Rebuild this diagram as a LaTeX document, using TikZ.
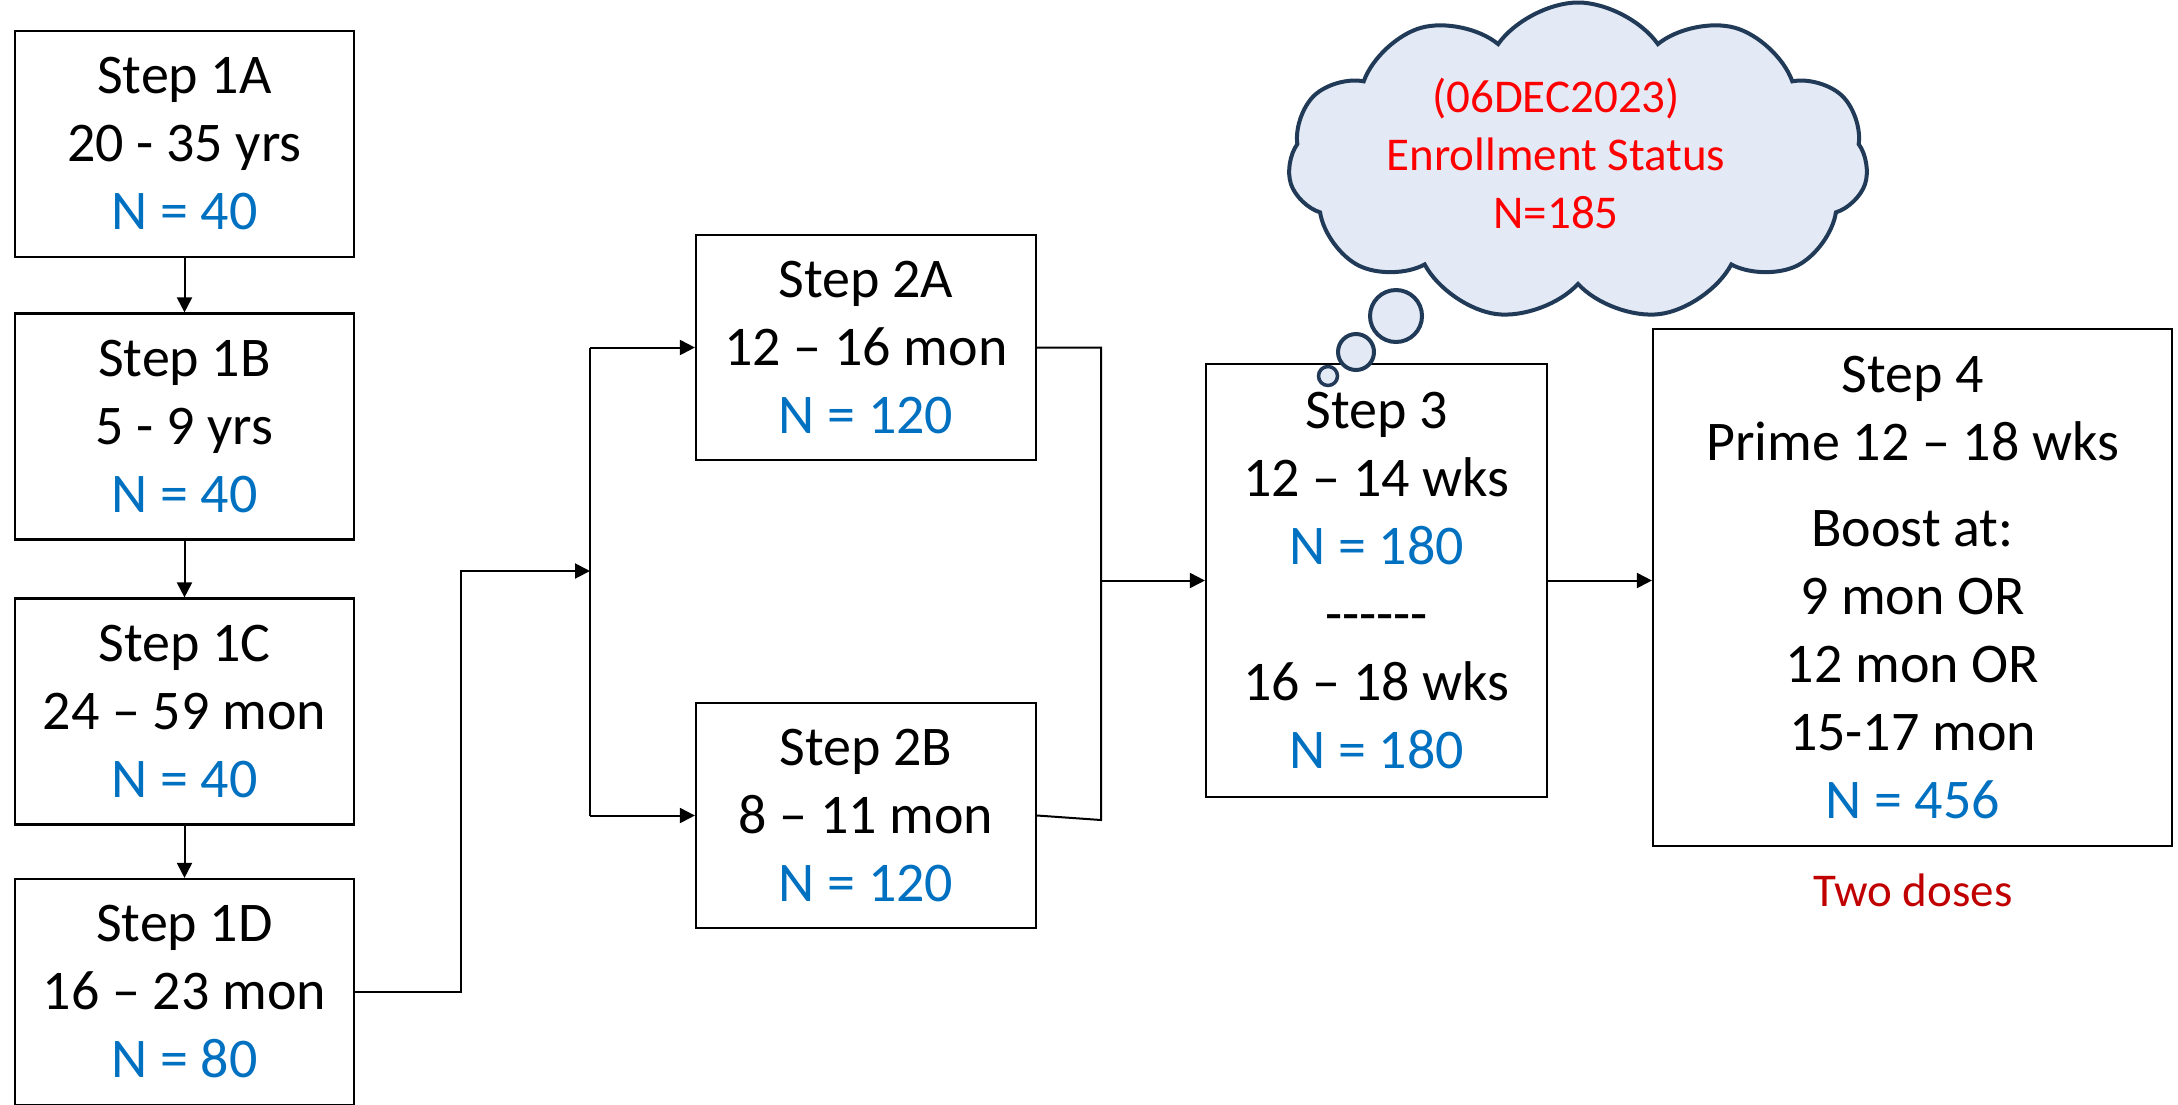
\documentclass[tikz,border=0pt]{standalone}
\usepackage{fontspec}
\setmainfont{Carlito}
\usetikzlibrary{shapes.symbols,arrows.meta}
\definecolor{nblue}{HTML}{0070C0}
\definecolor{cred}{HTML}{FF0000}
\definecolor{dred}{HTML}{C00000}
\definecolor{cloudfill}{HTML}{E3EAF5}
\definecolor{cloudline}{HTML}{203A57}
\newcommand{\nval}[1]{\textcolor{nblue}{#1}}
\newcommand{\hy}{-\kern0pt}
\begin{document}
\begin{tikzpicture}[x=1pt,y=-1pt,
  stepbox/.style={draw=black, line width=2.2pt, fill=white, align=center, inner sep=0pt,
    font=\fontsize{56pt}{68pt}\selectfont},
  conn/.style={line width=2pt},
  arr/.style={conn,-{Triangle[length=15pt,width=15pt]}},
  bubble/.style={draw=cloudline, fill=cloudfill, line width=4pt},
  cloudtext/.style={align=center, text=cred, font=\fontsize{47pt}{58pt}\selectfont},
  ]
\useasboundingbox (0,0) rectangle (2178,1104);

% Step 1 boxes
\node[stepbox, minimum width=339pt, minimum height=226pt] (s1a) at (184.5,144) {Step 1A\\20 - 35 yrs\\\nval{N = 40}};
\node[stepbox, minimum width=339pt, minimum height=226pt] (s1b) at (184.5,426.5) {Step 1B\\5 - 9 yrs\\\nval{N = 40}};
\node[stepbox, minimum width=339pt, minimum height=226pt] (s1c) at (184.5,711.5) {Step 1C\\24 – 59 mon\\\nval{N = 40}};
\node[stepbox, minimum width=339pt, minimum height=226pt] (s1d) at (184.5,992) {Step 1D\\16 – 23 mon\\\nval{N = 80}};

% Step 2 boxes
\node[stepbox, minimum width=340pt, minimum height=225pt] (s2a) at (866,347.5) {Step 2A\\12 – 16 mon\\\nval{N = 120}};
\node[stepbox, minimum width=340pt, minimum height=225pt] (s2b) at (866,815.5) {Step 2B\\8 – 11 mon\\\nval{N = 120}};

% Step 3
\node[stepbox, minimum width=341pt, minimum height=433pt] (s3) at (1376.5,580.5)
  {Step 3\\12 – 14 wks\\\nval{N = 180}\\\hy\hy\hy\hy\hy-\\16 – 18 wks\\\nval{N = 180}};

% Step 4
\node[stepbox, minimum width=519pt, minimum height=517pt] (s4) at (1912.5,587.5)
  {Step 4\\Prime 12 – 18 wks\\[18pt]Boost at:\\9 mon OR\\12 mon OR\\15-17 mon\\\nval{N = 456}};
\node[text=dred, font=\fontsize{47pt}{56pt}\selectfont] (two) at (1913,890) {Two doses};

% connectors step 1
\draw[arr] (s1a) -- (s1b);
\draw[arr] (s1b) -- (s1c);
\draw[arr] (s1c) -- (s1d);

\coordinate (c1) at (461,571);
\coordinate (c2) at (590,571);
\draw[arr] (s1d.east) -| (c1) -- (c2);
\draw[conn] (c2 |- s2a.west) -- (c2 |- s2b.west);
\draw[arr] (c2 |- s2a.west) -- (s2a.west);
\draw[arr] (c2 |- s2b.west) -- (s2b.west);

\coordinate (m2top) at (1101,347.5);
\coordinate (m2bot) at (1101,820);
\draw[conn] (s2a.east) -- (m2top) -- (m2bot) -- (s2b.east);
\draw[arr] (m2top |- s3.west) -- (s3.west);
\draw[arr] (s3.east) -- (s3.east -| s4.west);

% cloud
\node[cloud, cloud puffs=11, cloud puff arc=110, aspect=1.8, draw=cloudline, line width=4pt,
  fill=cloudfill, minimum width=580pt, minimum height=318pt, inner sep=0pt] (cl) at (1578,161.5) {};
\node[cloudtext] (ctx) at (1556,153) {(06DEC2023)\\Enrollment Status\\N=185};
\node[bubble, circle, minimum size=52pt, inner sep=0pt] (b1) at (1396,316) {};
\node[bubble, circle, minimum size=36pt, inner sep=0pt] (b2) at (1356,352) {};
\node[bubble, circle, minimum size=19pt, inner sep=0pt, line width=3.5pt] (b3) at (1328,376) {};
\end{tikzpicture}
\end{document}
